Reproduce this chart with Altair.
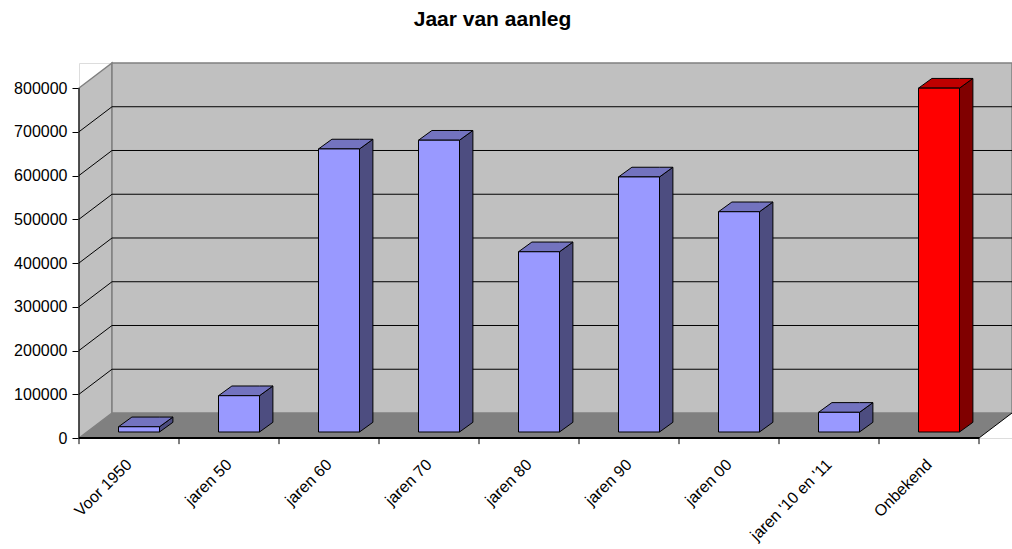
import altair as alt
import pandas as pd

# ---- data ----
categories = ["Voor 1950", "jaren 50", "jaren 60", "jaren 70", "jaren 80",
              "jaren 90", "jaren 00", "jaren '10 en '11", "Onbekend"]
values = [12000, 83000, 647000, 667000, 412000, 583000, 503500, 45000, 786000]
front_colors = ["#9999FF"] * 8 + ["#FF0000"]
side_colors = ["#4D4D80"] * 8 + ["#800000"]
top_colors = ["#7373BF"] * 8 + ["#BF0000"]
y_ticks = [0, 100000, 200000, 300000, 400000, 500000, 600000, 700000, 800000]

# ---- 3D geometry (style constants, in data units) ----
DX = 0.33          # wall depth in category units
DY = 57143         # wall depth in value units
BAR_DX = 0.134     # bar depth
BAR_DY = 22170
BAR_BASE = 13714   # bar sits slightly behind the front edge
BAR_L = 0.395
BAR_W = 0.41
n = len(categories)
YMAX = max(y_ticks)

W, H = 933, 375
xs = alt.Scale(domain=[0, n + DX], nice=False, zero=False)
ys = alt.Scale(domain=[0, YMAX + DY], nice=False, zero=False)

label_expr = "[" + ",".join("'" + c.replace("'", "\\'") + "'" for c in categories) + "][floor(datum.value)]"
x_axis = alt.Axis(
    values=[i + 0.5 for i in range(n)], labelExpr=label_expr, title=None,
    ticks=False, domain=False, grid=False, labelAngle=-45, labelAlign="right",
    labelBaseline="top", labelPadding=18, labelOffset=-6, labelFontSize=16, labelColor="black",
    labelFont="Liberation Sans", labelOverlap=False, labelBound=False, labelFlush=False)
y_axis = alt.Axis(
    values=y_ticks, title=None, domain=False, grid=False, ticks=True, tickSize=7,
    tickColor="black", labelFontSize=16, labelColor="black", labelPadding=5,
    labelFont="Liberation Sans", format="d", labelOverlap=False)


def X(f="x:Q"):
    return alt.X(f, scale=xs, axis=x_axis)


def Y(f="y:Q"):
    return alt.Y(f, scale=ys, axis=y_axis)


# walls
left_wall = pd.DataFrame({"x": [0, DX], "y": [0, DY], "y2": [YMAX, YMAX + DY]})
back_wall = pd.DataFrame({"x": [DX], "x2": [n + DX], "y": [DY], "y2": [YMAX + DY]})
floor = pd.DataFrame({"x": [0, DX, n, n + DX], "y": [0, 0, 0, DY], "y2": [0, DY, DY, DY]})

grid_vals = y_ticks[1:-1]
back_grid = pd.DataFrame({"x": DX, "x2": n + DX, "y": [v + DY for v in grid_vals]})
side_grid = pd.DataFrame({"x": 0, "x2": DX, "y": grid_vals, "y2": [v + DY for v in grid_vals]})

lw = alt.Chart(left_wall).mark_area(orient="vertical", fill="#C0C0C0", stroke="#808080",
                                    strokeWidth=1.5).encode(x=X(), y=Y(), y2="y2:Q")
bw = alt.Chart(back_wall).mark_rect(fill="#C0C0C0", stroke="#808080", strokeWidth=1.5).encode(
    x=X(), x2="x2:Q", y=Y(), y2="y2:Q")
fl = alt.Chart(floor).mark_area(orient="vertical", fill="#808080").encode(x=X(), y=Y(), y2="y2:Q")
bg = alt.Chart(back_grid).mark_rule(color="black", strokeWidth=1).encode(
    x=X(), x2="x2:Q", y=Y())
sg = alt.Chart(side_grid).mark_rule(color="black", strokeWidth=1).encode(
    x=X(), x2="x2:Q", y=Y(), y2="y2:Q")

edges = pd.DataFrame({"x": [0, 0, n], "x2": [0, n, n + DX],
                      "y": [0, 0, 0], "y2": [YMAX, 0, DY], "w": [1, 2, 1]})
ed = alt.Chart(edges).mark_rule(color="black").encode(
    x=X(), x2="x2:Q", y=Y(), y2="y2:Q",
    strokeWidth=alt.StrokeWidth("w:Q", scale=None))

ticks = pd.DataFrame({"x": list(range(n + 1)), "y": 0, "y2": -14000})
tk = alt.Chart(ticks).mark_rule(color="black", strokeWidth=1).encode(
    x=X(), y=Y(), y2="y2:Q")

# bars
rows_front, rows_side, rows_top = [], [], []
for i, (c, v) in enumerate(zip(categories, values)):
    x0 = i + BAR_L
    x1 = x0 + BAR_W
    top = BAR_BASE + v
    rows_front.append({"cat": c, "x": x0, "x2": x1, "y": BAR_BASE, "y2": top, "col": front_colors[i]})
    rows_side += [
        {"cat": c, "x": x1, "y": BAR_BASE, "y2": top, "col": side_colors[i]},
        {"cat": c, "x": x1 + BAR_DX, "y": BAR_BASE + BAR_DY, "y2": top + BAR_DY, "col": side_colors[i]},
    ]
    rows_top += [
        {"cat": c, "x": x0, "y": top, "y2": top, "col": top_colors[i]},
        {"cat": c, "x": x0 + BAR_DX, "y": top, "y2": top + BAR_DY, "col": top_colors[i]},
        {"cat": c, "x": x1, "y": top, "y2": top + BAR_DY, "col": top_colors[i]},
        {"cat": c, "x": x1 + BAR_DX, "y": top + BAR_DY, "y2": top + BAR_DY, "col": top_colors[i]},
    ]

side = alt.Chart(pd.DataFrame(rows_side)).mark_area(
    orient="vertical", stroke="black", strokeWidth=1, strokeJoin="miter").encode(
    x=X(), y=Y(), y2="y2:Q", fill=alt.Fill("col:N", scale=None), detail="cat:N")
topf = alt.Chart(pd.DataFrame(rows_top)).mark_area(
    orient="vertical", stroke="black", strokeWidth=1, strokeJoin="miter").encode(
    x=X(), y=Y(), y2="y2:Q", fill=alt.Fill("col:N", scale=None), detail="cat:N")
front = alt.Chart(pd.DataFrame(rows_front)).mark_rect(stroke="black", strokeWidth=1).encode(
    x=X(), x2="x2:Q", y=Y(), y2="y2:Q", fill=alt.Fill("col:N", scale=None))

chart = alt.layer(lw, bw, fl, bg, sg, side, topf, front, ed, tk).properties(
    width=W, height=H,
    title=alt.TitleParams("Jaar van aanleg", fontSize=21, font="Liberation Sans",
                          fontWeight="bold", color="black", anchor="middle",
                          dx=-53, offset=13, baseline="alphabetic"),
    autosize=alt.AutoSizeParams(type="none"),
    padding={"left": 79, "top": 63, "right": 0, "bottom": 111},
).configure_view(stroke=None).configure(background="white")

chart.save("out.html", embed_options={"renderer": "svg", "actions": False})
